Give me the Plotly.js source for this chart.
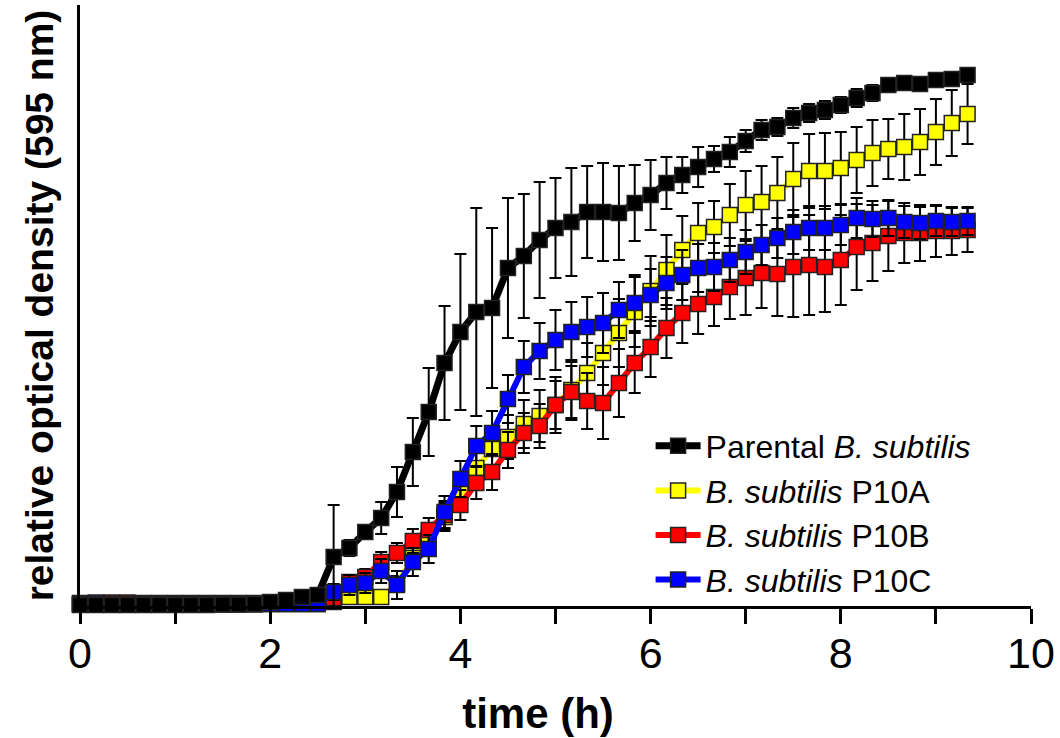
<!DOCTYPE html>
<html>
<head>
<meta charset="utf-8">
<script src="https://cdn.plot.ly/plotly-3.0.1.min.js"></script>
<style>html,body{margin:0;padding:0;background:#fff;}#chart{width:1060px;height:738px;}</style>
</head>
<body>
<div id="chart"></div>
<script>
// time (h), readings every 10 min
var timeH = [0,0.167,0.333,0.5,0.667,0.833,1,1.167,1.333,1.5,1.667,1.833,2,2.167,2.333,2.5,2.667,2.833,3,3.167,3.333,3.5,3.667,3.833,4,4.167,4.333,4.5,4.667,4.833,5,5.167,5.333,5.5,5.667,5.833,6,6.167,6.333,6.5,6.667,6.833,7,7.167,7.333,7.5,7.667,7.833,8,8.167,8.333,8.5,8.667,8.833,9,9.167,9.333];

var parental = [0.002,0.002,0.002,0.002,0.002,0.002,0.002,0.002,0.002,0.003,0.003,0.004,0.008,0.012,0.018,0.022,0.098,0.116,0.148,0.176,0.228,0.308,0.388,0.486,0.548,0.588,0.596,0.676,0.700,0.732,0.756,0.768,0.788,0.788,0.786,0.806,0.822,0.846,0.862,0.878,0.894,0.908,0.930,0.952,0.958,0.976,0.986,0.992,1.002,1.016,1.026,1.042,1.046,1.044,1.052,1.054,1.062];
var parentalErr = [0.006,0.006,0.006,0.006,0.006,0.006,0.006,0.006,0.006,0.006,0.006,0.006,0.006,0.006,0.006,0.008,0.104,0.016,0.012,0.032,0.050,0.068,0.088,0.114,0.156,0.208,0.160,0.140,0.124,0.116,0.100,0.108,0.092,0.098,0.094,0.076,0.070,0.052,0.036,0.040,0.026,0.030,0.022,0.020,0.018,0.020,0.018,0.018,0.016,0.018,0.016,0.014,0.014,0.014,0.012,0.012,0.012];

var p10A = [0.003,0.003,0.003,0.003,0.003,0.003,0.003,0.003,0.003,0.003,0.003,0.003,0.004,0.004,0.004,0.004,0.008,0.018,0.018,0.018,0.044,0.096,0.136,0.178,0.228,0.276,0.314,0.338,0.364,0.380,0.402,0.432,0.466,0.506,0.546,0.588,0.630,0.672,0.712,0.746,0.758,0.782,0.802,0.808,0.826,0.854,0.870,0.870,0.876,0.892,0.906,0.914,0.918,0.928,0.948,0.966,0.984];
var p10AErr = [0.006,0.006,0.006,0.006,0.006,0.006,0.006,0.006,0.006,0.006,0.006,0.006,0.006,0.006,0.006,0.006,0.006,0.010,0.010,0.010,0.016,0.020,0.024,0.028,0.032,0.036,0.040,0.044,0.048,0.052,0.056,0.060,0.060,0.064,0.068,0.070,0.070,0.070,0.068,0.060,0.052,0.062,0.068,0.072,0.072,0.072,0.074,0.076,0.072,0.066,0.066,0.060,0.066,0.066,0.066,0.066,0.060];

var p10B = [0.006,0.007,0.007,0.007,0.006,0.006,0.006,0.006,0.006,0.006,0.006,0.006,0.007,0.007,0.008,0.010,0.016,0.048,0.058,0.088,0.106,0.130,0.152,0.182,0.202,0.246,0.268,0.312,0.346,0.360,0.402,0.428,0.410,0.406,0.446,0.486,0.518,0.556,0.586,0.604,0.618,0.638,0.656,0.666,0.664,0.678,0.682,0.678,0.692,0.718,0.726,0.740,0.746,0.746,0.750,0.750,0.752];
var p10BErr = [0.006,0.006,0.006,0.006,0.006,0.006,0.006,0.006,0.006,0.006,0.006,0.006,0.006,0.006,0.006,0.006,0.010,0.012,0.016,0.020,0.020,0.024,0.024,0.028,0.030,0.032,0.036,0.036,0.040,0.044,0.048,0.052,0.056,0.072,0.068,0.060,0.060,0.060,0.060,0.060,0.058,0.064,0.074,0.070,0.084,0.100,0.100,0.090,0.090,0.086,0.076,0.070,0.060,0.056,0.052,0.048,0.044];

var p10C = [0.004,0.005,0.004,0.004,0.004,0.004,0.004,0.004,0.004,0.004,0.004,0.004,0.004,0.004,0.004,0.004,0.028,0.042,0.046,0.070,0.042,0.088,0.114,0.188,0.254,0.320,0.346,0.414,0.478,0.510,0.532,0.548,0.558,0.566,0.592,0.606,0.622,0.646,0.662,0.676,0.678,0.692,0.708,0.722,0.736,0.748,0.756,0.756,0.762,0.776,0.774,0.776,0.768,0.766,0.770,0.768,0.770];
var p10CErr = [0.006,0.006,0.006,0.006,0.006,0.006,0.006,0.006,0.006,0.006,0.006,0.006,0.006,0.006,0.006,0.006,0.016,0.020,0.020,0.024,0.028,0.028,0.028,0.032,0.036,0.040,0.044,0.048,0.052,0.056,0.060,0.060,0.060,0.060,0.056,0.056,0.052,0.052,0.050,0.048,0.048,0.044,0.044,0.040,0.040,0.044,0.044,0.044,0.040,0.040,0.036,0.036,0.032,0.032,0.030,0.028,0.028];

var seriesNames = ['Parental <i>B. subtilis</i>', '<i>B. subtilis</i> P10A', '<i>B. subtilis</i> P10B', '<i>B. subtilis</i> P10C'];
var xTickVals = [0,1,2,3,4,5,6,7,8,9,10];
var xTickText = ['0','','2','','4','','6','','8','','10'];

function mk(y, err, name, lineColor, markerColor, lineW, rank) {
  return {
    x: timeH, y: y, name: name, type: 'scatter', mode: 'lines+markers',
    line: {color: lineColor, width: lineW},
    marker: {symbol: 'square', size: 15, color: markerColor, line: {color: '#222', width: 1.5}},
    error_y: {type: 'data', array: err, visible: true, color: '#000', thickness: 2, width: 6},
    legendrank: rank, cliponaxis: false
  };
}

var traces = [
  mk(p10A, p10AErr, seriesNames[1], '#FFFF00', '#FFFF00', 6, 2),
  mk(p10B, p10BErr, seriesNames[2], '#FF0000', '#FF0000', 6, 3),
  mk(p10C, p10CErr, seriesNames[3], '#0000FF', '#0000FF', 6, 4),
  mk(parental, parentalErr, seriesNames[0], '#000000', '#000000', 7, 1)
];

var layout = {
  width: 1060, height: 738,
  margin: {l: 80, r: 29, t: 5, b: 132, pad: 0},
  paper_bgcolor: '#fff', plot_bgcolor: '#fff',
  font: {family: 'Liberation Sans, Arial, sans-serif', color: '#000'},
  showlegend: true,
  legend: {x: 0.6, y: 0.312, xanchor: 'left', yanchor: 'top', bgcolor: 'rgba(0,0,0,0)',
           font: {size: 32, family: 'Liberation Sans, Arial, sans-serif'}, itemwidth: 45, tracegroupgap: 0},
  xaxis: {
    range: [0, 10], tickvals: xTickVals, ticktext: xTickText,
    ticks: 'outside', ticklen: 15, tickwidth: 3, tickcolor: '#000',
    showline: true, linewidth: 3, linecolor: '#000', showgrid: false, zeroline: false,
    tickfont: {size: 43},
    ticklabelstandoff: -8,
    title: {text: '<b>time (h)</b>&nbsp;&nbsp;&nbsp;', font: {size: 42}, standoff: 24},
    automargin: false
  },
  yaxis: {
    range: [0, 1.202], showticklabels: false, ticks: '',
    showline: true, linewidth: 3, linecolor: '#000', showgrid: false, zeroline: false,
    title: {text: '<b>relative optical density (595 nm)</b>', font: {size: 39}, standoff: 12},
    automargin: false
  }
};

Plotly.newPlot('chart', traces, layout, {displayModeBar: false, staticPlot: true});
</script>
</body>
</html>
